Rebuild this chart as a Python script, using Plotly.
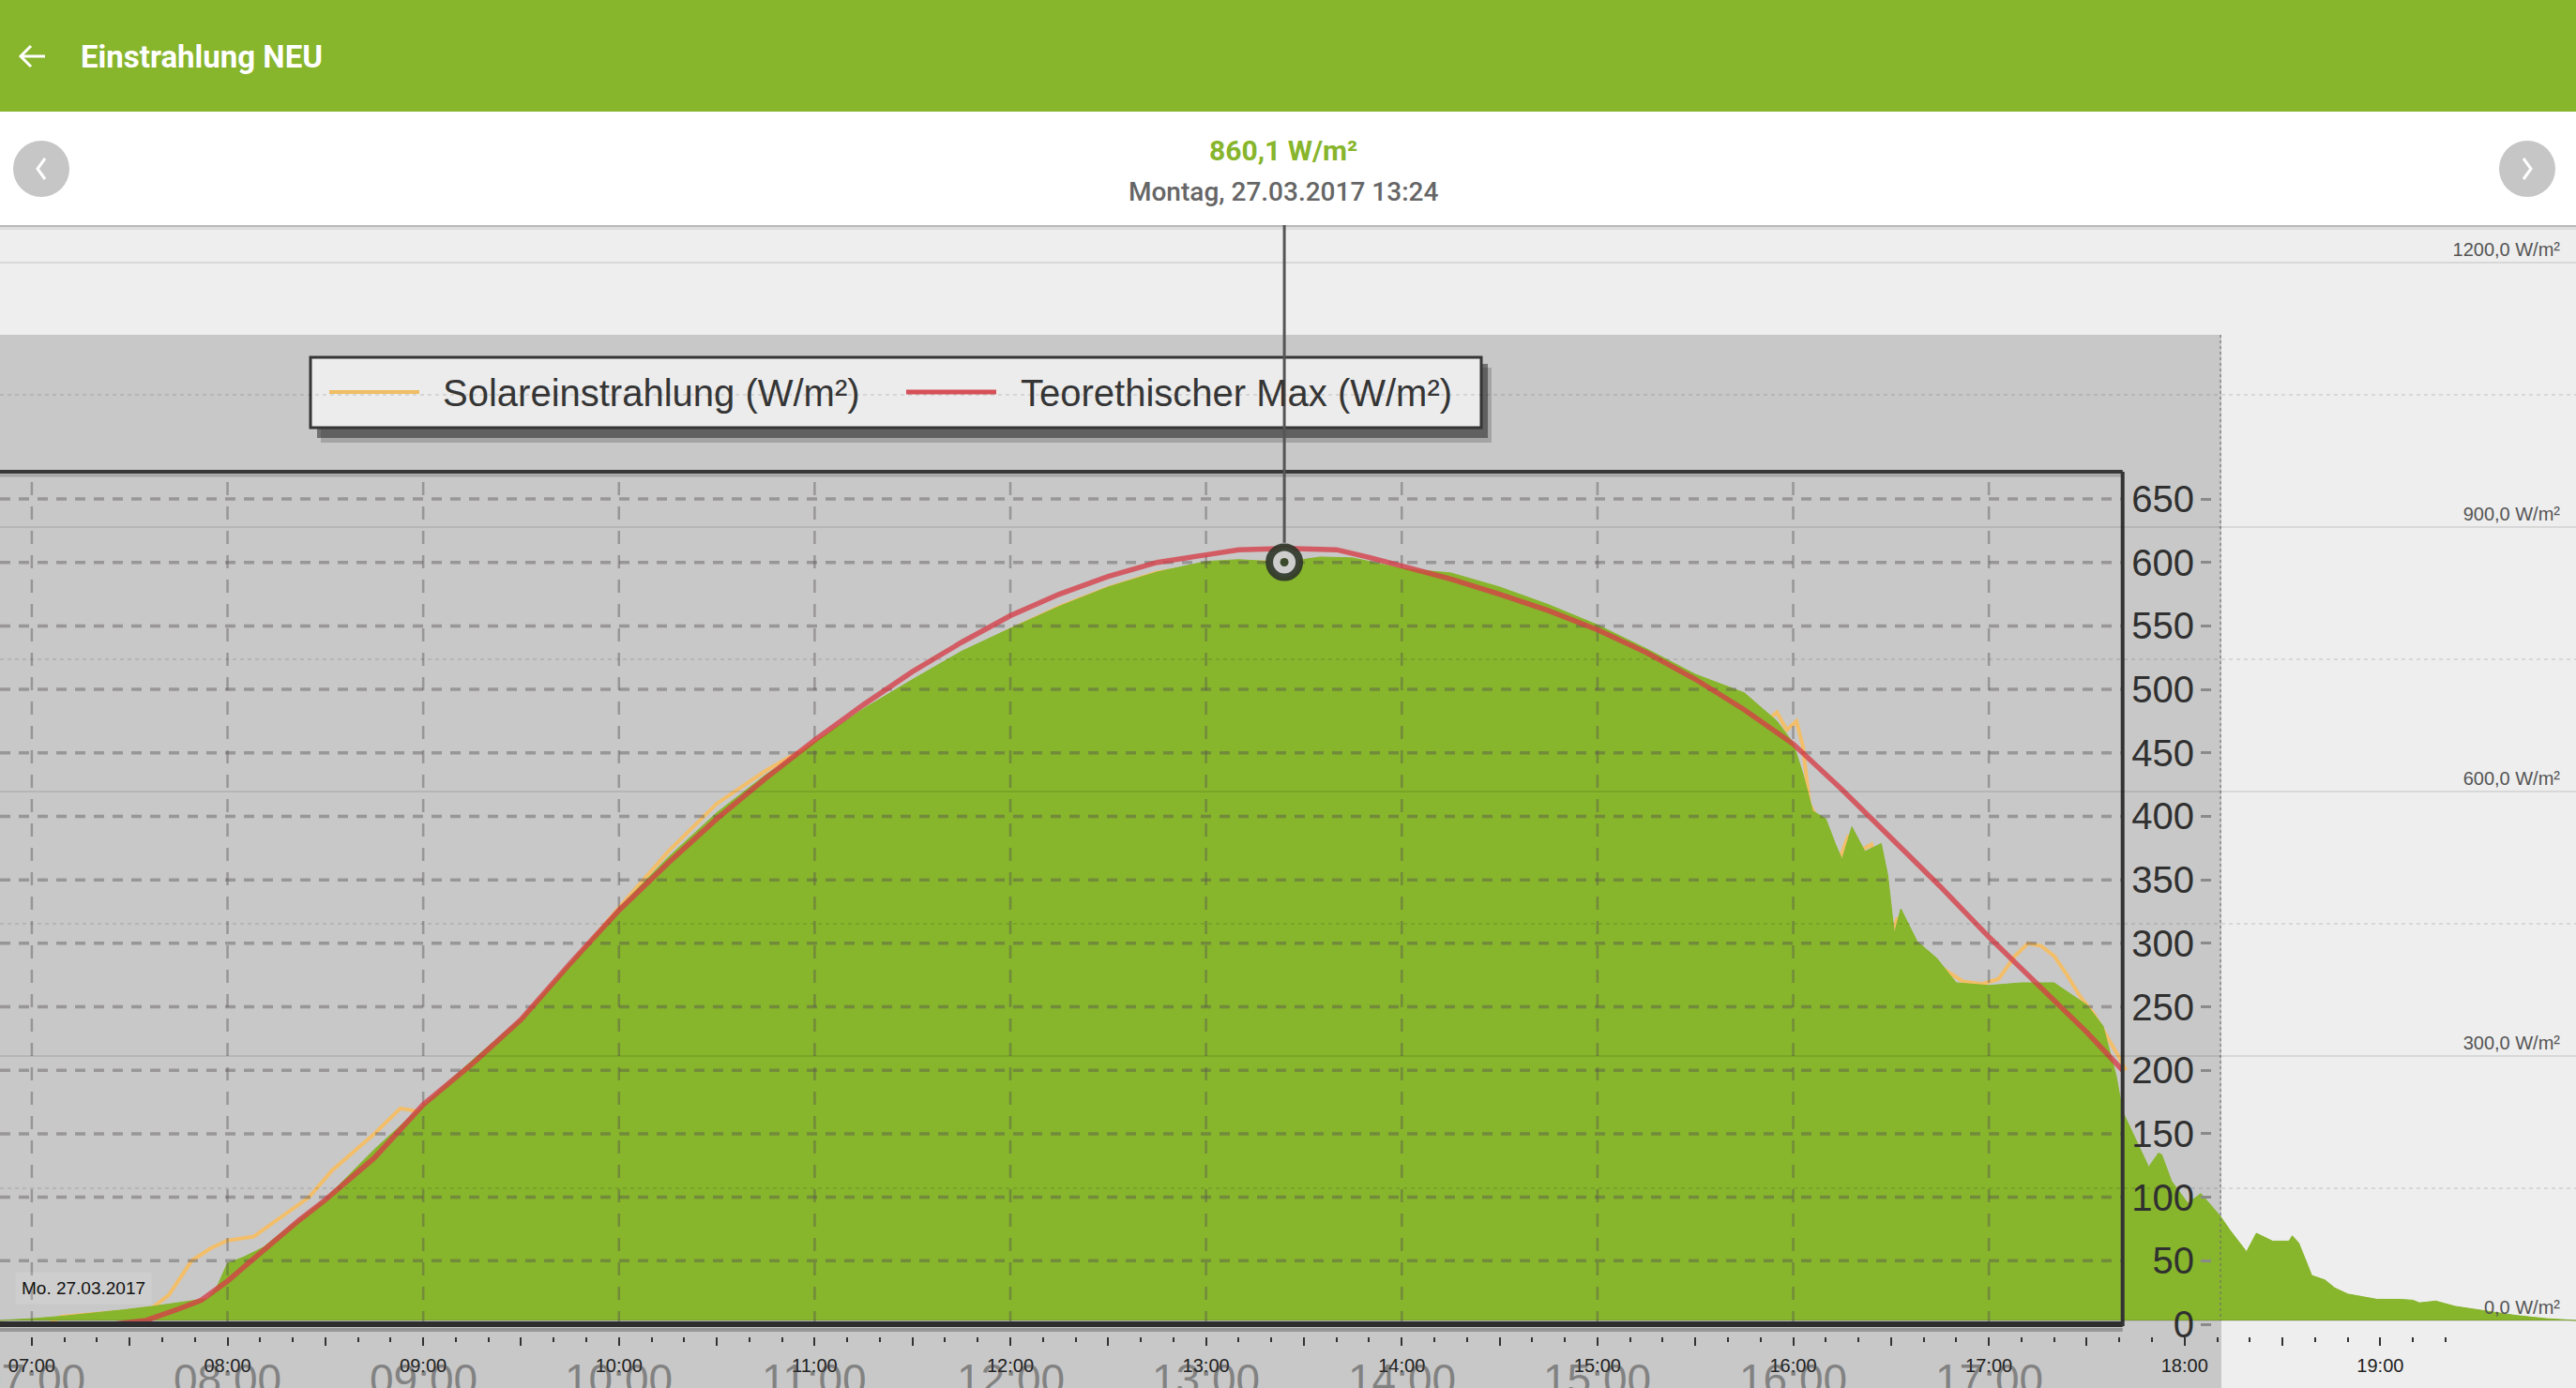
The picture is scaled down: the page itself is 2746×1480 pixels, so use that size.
import plotly.graph_objects as go

W, H = 2746, 1480          # size of the reference picture (all positions below are in its pixels)
H_FIG = 1500               # the page is photographed ~1500 px tall and squeezed to 1480
DATE = "2017-03-27"

# ---------------- data ----------------
# Outer app chart: Einstrahlung in W/m²
GREEN_TIMES = ["06:50","07:00","07:10","07:18","07:28","07:37","07:46","07:54","07:57","08:00",
               "08:05","08:11","08:16","08:22","08:30","08:45","09:00","09:15","09:30","09:45",
               "10:00","10:15","10:30","10:45","11:00","11:15","11:30","11:45","12:00","12:15",
               "12:30","12:45","13:00","13:10","13:24","13:35","13:45","14:00","14:15","14:30",
               "14:45","15:00","15:15","15:30","15:45","15:55","16:00","16:03","16:06","16:10",
               "16:13","16:15","16:18","16:22","16:27","16:29","16:31","16:33","16:38","16:44",
               "16:50","17:00","17:10","17:20","17:30","17:35","17:39","17:41","17:44","17:49",
               "17:52","17:53","17:56","18:01","18:05","18:11","18:14","18:19","18:22","18:27",
               "18:32","18:33","18:35","18:39","18:43","18:46","18:50","18:59","19:06","19:10",
               "19:12","19:17","19:23","19:30","19:41","19:51","20:00"]
GREEN_VALUES = [0,2,5,8,12,16,21,25,40,65,
                72,83,98,115,138,194,245,295,343,406,
                468,525,576,619,656,694,727,759,785,810,
                832,849,861,863,860.1,866,865,853,848,832,
                812,789,762,733,712,680,655,620,578,569,
                540,523,560,532,541,505,439,467,430,411,
                383,380,383,383,358,334,278,237,214,174,
                190,188,158,133,144,118,102,78,99,90,
                90,96,88,51,46,37,30,24,24,23,
                20,22,16,12,6,2,0]

# Embedded (screenshot) chart, its own W/m² scale
SOLAR_TIMES = ["07:05","07:09","07:28","07:37","07:42","07:49","07:55","08:00","08:08","08:15",
               "08:25","08:32","08:45","08:53","09:00","09:05","09:15","09:30","09:45","10:00",
               "10:15","10:30","10:45","11:00","11:15","11:30","11:45","12:00","12:15","12:30",
               "12:45","13:00","13:15","13:30","13:45","14:00","14:15","14:30","14:45","15:00",
               "15:15","15:30","15:45","15:52","15:55","15:58","16:01","16:03","16:05","16:08",
               "16:11","16:14","16:17","16:20","16:24","16:27","16:29","16:32","16:36","16:41",
               "16:46","16:52","16:58","17:03","17:08","17:12","17:16","17:20","17:24","17:28",
               "17:32","17:36","17:40","17:42"]
SOLAR_VALUES = [0,6,10,13,23,50,60,66,69,82,
                100,121,150,170,167,172,195,240,283,328,
                372,410,436,458,482,505,527,547,565,580,
                592,598,600,601,601,594,588,574,560,545,
                528,508,488,475,482,468,475,455,410,395,
                380,365,385,372,378,345,300,320,295,290,
                280,270,268,272,290,300,298,290,275,258,
                245,228,210,200]

TMAX_TIMES = ["07:25","07:35","07:45","07:52","08:00","08:11","08:22","08:30","08:45","09:00",
              "09:15","09:30","09:45","10:00","10:15","10:30","10:45","11:00","11:15","11:30",
              "11:45","12:00","12:15","12:30","12:45","13:00","13:10","13:25","13:40","13:50",
              "14:00","14:15","14:30","14:45","15:00","15:15","15:30","15:45","16:00","16:15",
              "16:30","16:45","17:00","17:15","17:30","17:41"]
TMAX_VALUES = [0,3,12,19,34,58,82,98,131,173,
               205,240,284,326,363,398,430,460,488,514,
               537,558,575,589,600,606,610,611,610,604,
               597,587,575,562,547,529,508,484,457,421,
               383,345,305,268,230,200]

MARK_TIME = "13:24"
MARK_VALUE = 860.1
MARK_DAY = "Montag, 27.03.2017"

OUTER_Y_TICKS = [0, 300, 600, 900, 1200]
OUTER_Y_LABELS = ["0,0 W/m²", "300,0 W/m²", "600,0 W/m²", "900,0 W/m²", "1200,0 W/m²"]
OUTER_Y_MINOR = [150, 450, 750, 1050]
OUTER_X_LABELS = ["07:00","08:00","09:00","10:00","11:00","12:00","13:00",
                  "14:00","15:00","16:00","17:00","18:00","19:00","20:00"]

INNER_Y_TICKS = [0, 50, 100, 150, 200, 250, 300, 350, 400, 450, 500, 550, 600, 650]
INNER_X_LABELS = ["07:00","08:00","09:00","10:00","11:00","12:00",
                  "13:00","14:00","15:00","16:00","17:00"]
INNER_X_END = "17:41"
INNER_TOP = 671.4
LEGEND_LABELS = ["Solareinstrahlung (W/m²)", "Teorethischer Max (W/m²)"]

# ---------------- helpers ----------------
def T(hm):
    return f"{DATE} {hm}:00"

def px(x):
    return x / W

def py(y):
    return 1 - y / H

X_LEFT = f"{DATE} 06:50:15"
X_RIGHT = f"{DATE} 20:00:00"
OUTER_RANGE = [(1408 - 1414) / 0.94, (1408 - 240) / 0.94]
INNER_RANGE = [(1412 - 1414) / 1.3538, (1412 - 240) / 1.3538]
GREEN = "#87b52c"
UI_FONT = "Roboto"
CH_FONT = "Liberation Sans"

fig = go.Figure()

# orange measurement (below the green area)
fig.add_trace(go.Scatter(
    x=[T(t) for t in SOLAR_TIMES], y=SOLAR_VALUES, mode="lines", yaxis="y",
    line=dict(color="rgba(246,190,100,0.95)", width=4), hoverinfo="skip", showlegend=False))

# green area of the app
fig.add_trace(go.Scatter(
    x=[T(t) for t in GREEN_TIMES], y=GREEN_VALUES, mode="lines", yaxis="y2",
    fill="tozeroy", fillcolor=GREEN, line=dict(color=GREEN, width=1),
    hoverinfo="skip", showlegend=False))

# embedded chart grid (dashed), over the green area
gx, gy = [], []
for v in INNER_Y_TICKS[1:]:
    gx += [X_LEFT, T(INNER_X_END), None]
    gy += [v, v, None]
fig.add_trace(go.Scatter(
    x=gx, y=gy, mode="lines", yaxis="y3",
    line=dict(color="rgba(85,80,80,0.42)", width=3.5, dash="11px,9px"),
    hoverinfo="skip", showlegend=False))
vx, vy = [], []
for lab in INNER_X_LABELS:
    vx += [T(lab), T(lab), None]
    vy += [0, INNER_TOP, None]
fig.add_trace(go.Scatter(
    x=vx, y=vy, mode="lines", yaxis="y3",
    line=dict(color="rgba(85,80,80,0.42)", width=2.5, dash="14px,12px"),
    hoverinfo="skip", showlegend=False))

# red theoretical max
fig.add_trace(go.Scatter(
    x=[T(t) for t in TMAX_TIMES], y=TMAX_VALUES, mode="lines", yaxis="y4",
    line=dict(color="rgba(214,62,72,0.78)", width=5.5), hoverinfo="skip", showlegend=False))

# selected point marker
fig.add_trace(go.Scatter(
    x=[T(MARK_TIME)], y=[MARK_VALUE], mode="markers", yaxis="y5",
    marker=dict(size=32, color="#cdcdcd", line=dict(color="rgba(48,55,42,0.92)", width=8)),
    hoverinfo="skip", showlegend=False))
fig.add_trace(go.Scatter(
    x=[T(MARK_TIME)], y=[MARK_VALUE], mode="markers", yaxis="y5",
    marker=dict(size=9, color="#3b4a2a"), hoverinfo="skip", showlegend=False))

# ---------------- shapes ----------------
shapes = []

def rect(x0, y0, x1, y1, fill, line=None, lw=0, layer="above"):
    shapes.append(dict(type="rect", xref="paper", yref="paper",
                       x0=px(x0), x1=px(x1), y0=py(y1), y1=py(y0),
                       fillcolor=fill, line=dict(width=lw, color=line or fill), layer=layer))

def pline(x0, y0, x1, y1, color, w, dash="solid", layer="above"):
    shapes.append(dict(type="line", xref="paper", yref="paper",
                       x0=px(x0), x1=px(x1), y0=py(y0), y1=py(y1),
                       line=dict(color=color, width=w, dash=dash), layer=layer))

# embedded screenshot background
rect(0, 357, 2368, 1480, "#c8c8c8", layer="below")

# header and sub header
rect(0, 0, W, 119, GREEN)
rect(0, 119, W, 240, "#ffffff")
pline(0, 241, W, 241, "rgba(0,0,0,0.22)", 2)
pline(0, 243.5, W, 243.5, "rgba(0,0,0,0.07)", 3)

# back arrow
shapes.append(dict(type="path", xref="paper", yref="paper",
                   path=f"M{px(23)},{py(60)} L{px(48)},{py(60)} M{px(33)},{py(49)} L{px(22)},{py(60)} L{px(33)},{py(71)}",
                   line=dict(color="white", width=3)))

# round navigation buttons
for cx, d in ((44, -1), (2694, 1)):
    shapes.append(dict(type="circle", xref="paper", yref="paper",
                       x0=px(cx - 30), x1=px(cx + 30), y0=py(210), y1=py(150),
                       fillcolor="#c6c6c6", line=dict(width=0)))
    shapes.append(dict(type="path", xref="paper", yref="paper",
                       path=f"M{px(cx - 4*d)},{py(169)} L{px(cx + 4*d)},{py(180)} L{px(cx - 4*d)},{py(191)}",
                       line=dict(color="white", width=3)))

# legend box of the embedded chart (with drop shadow)
rect(342, 392, 1590, 472, "rgba(0,0,0,0.18)")
rect(338, 388, 1586, 467, "rgba(40,40,40,0.55)")
rect(331, 381, 1579, 456, "#ececec", line="#353535", lw=3)
pline(351, 418, 447, 418, "rgba(240,190,100,1)", 4)
pline(966, 418, 1062, 418, "rgba(214,80,88,1)", 5)

# frame of the embedded chart
shapes.append(dict(type="line", xref="x", yref="paper", x0=X_LEFT, x1=T(INNER_X_END),
                   y0=py(507), y1=py(507), line=dict(color="rgba(0,0,0,0.18)", width=3)))
shapes.append(dict(type="line", xref="x", yref="paper", x0=X_LEFT, x1=T(INNER_X_END),
                   y0=py(503), y1=py(503), line=dict(color="#383838", width=4)))
shapes.append(dict(type="line", xref="x", yref="paper", x0=X_LEFT, x1=T(INNER_X_END),
                   y0=py(1418), y1=py(1418), line=dict(color="rgba(0,0,0,0.25)", width=4)))
shapes.append(dict(type="line", xref="x", yref="paper", x0=X_LEFT, x1=T(INNER_X_END),
                   y0=py(1412), y1=py(1412), line=dict(color="#2e2e2e", width=6)))
shapes.append(dict(type="line", xref="x", yref="paper", x0=T(INNER_X_END), x1=T(INNER_X_END),
                   y0=py(503), y1=py(1414), line=dict(color="#333333", width=4)))

# right edge of the screenshot
pline(2367, 357, 2367, 1408, "rgba(110,110,110,0.55)", 2, dash="dot")

# app grid lines (drawn over everything, faint)
for v in OUTER_Y_TICKS:
    shapes.append(dict(type="line", xref="paper", yref="y2", x0=0, x1=1, y0=v, y1=v,
                       line=dict(color="rgba(0,0,0,0.09)", width=2)))
for v in OUTER_Y_MINOR:
    shapes.append(dict(type="line", xref="paper", yref="y2", x0=0, x1=1, y0=v, y1=v,
                       line=dict(color="rgba(0,0,0,0.13)", width=1.5, dash="4px,4px")))

# crosshair to the selected point
shapes.append(dict(type="line", xref="x", yref="y2", x0=T(MARK_TIME), x1=T(MARK_TIME),
                   y0=MARK_VALUE + 22, y1=OUTER_RANGE[1],
                   line=dict(color="#555555", width=3)))

# ---------------- annotations ----------------
ann = []
ann.append(dict(xref="paper", yref="paper", x=px(84), y=py(60), xanchor="left", yanchor="middle",
                text="Einstrahlung NEU", showarrow=False,
                font=dict(family=UI_FONT, size=33, color="white", weight=700)))
ann.append(dict(xref="paper", yref="paper", x=px(1368), y=py(160), xanchor="center", yanchor="middle",
                text=f"{MARK_VALUE:.1f}".replace(".", ",") + " W/m²", showarrow=False,
                font=dict(family=UI_FONT, size=30, color=GREEN, weight=700)))
ann.append(dict(xref="paper", yref="paper", x=px(1368), y=py(204), xanchor="center", yanchor="middle",
                text=f"{MARK_DAY} {MARK_TIME}", showarrow=False,
                font=dict(family=UI_FONT, size=28, color="#666666", weight=500)))
ann.append(dict(xref="paper", yref="paper", x=px(16), y=py(1373), xanchor="left", yanchor="middle",
                text="Mo. 27.03.2017", showarrow=False, bgcolor="rgba(255,255,255,0.12)", borderpad=6,
                font=dict(family=CH_FONT, size=19, color="#111111")))
ann.append(dict(xref="paper", yref="paper", x=px(470), y=py(419), xanchor="left", yanchor="middle",
                text=LEGEND_LABELS[0], showarrow=False,
                font=dict(family=CH_FONT, size=40, color="#353535")))
ann.append(dict(xref="paper", yref="paper", x=px(1086), y=py(419), xanchor="left", yanchor="middle",
                text=LEGEND_LABELS[1], showarrow=False,
                font=dict(family=CH_FONT, size=40, color="#353535")))
# big x labels of the embedded chart, cut by the bottom edge as in the screenshot
for lab in INNER_X_LABELS:
    ann.append(dict(xref="x", yref="paper", x=T(lab), y=py(1444), xanchor="center", yanchor="top",
                    text=lab, showarrow=False, borderpad=0,
                    font=dict(family=CH_FONT, size=46, color="rgba(60,60,60,0.5)")))

# ---------------- axes ----------------
tickvals, ticktext = [], []
for lab in OUTER_X_LABELS:
    tickvals.append(T(lab)); ticktext.append(lab)
    if lab != OUTER_X_LABELS[-1]:
        tickvals.append(T(lab[:2] + ":30")); ticktext.append("")

y_dom = [(H - 1414) / H, (H - 240) / H]

fig.update_layout(
    width=W, height=H_FIG,
    margin=dict(l=0, r=0, t=0, b=0),
    paper_bgcolor="#eeeeee", plot_bgcolor="#eeeeee",
    showlegend=False,
    shapes=shapes, annotations=ann,
    xaxis=dict(type="date", range=[X_LEFT, X_RIGHT], domain=[0, 1],
               anchor="free", position=(H - 1425) / H,
               showgrid=False, zeroline=False, showline=False,
               ticks="outside", ticklen=9, tickwidth=2, tickcolor="#333333",
               tickvals=tickvals, ticktext=ticktext, ticklabelstandoff=4,
               tickfont=dict(family="Liberation Sans", size=20, color="#222222"),
               minor=dict(ticks="outside", ticklen=5, tickwidth=2, tickcolor="#333333",
                          dtick=600000, tick0=T("07:00"))),
    yaxis=dict(domain=y_dom, range=INNER_RANGE, visible=False, anchor="x"),
    yaxis2=dict(overlaying="y", side="right", anchor="x", range=OUTER_RANGE,
                showgrid=False, zeroline=False, showline=False, ticks="",
                tickvals=OUTER_Y_TICKS, ticktext=OUTER_Y_LABELS,
                ticklabelposition="inside top", ticklabelstandoff=14,
                tickfont=dict(family="Liberation Sans", size=20, color="#555555")),
    yaxis3=dict(overlaying="y", side="left", anchor="free", position=2345 / W, range=INNER_RANGE,
                showgrid=False, zeroline=False, showline=False,
                ticks="inside", ticklen=11, tickwidth=3, tickcolor="#8a8a8a",
                tickvals=INNER_Y_TICKS, ticklabelstandoff=6,
                tickfont=dict(family=CH_FONT, size=40, color="#303030")),
    yaxis4=dict(overlaying="y", range=INNER_RANGE, visible=False),
    yaxis5=dict(overlaying="y", range=OUTER_RANGE, visible=False),
)

POST = (
    "var d=document.documentElement,b=document.body;"
    "d.style.margin='0';b.style.margin='0';d.style.padding='0';b.style.padding='0';"
    "d.style.overflow='hidden';b.style.overflow='hidden';"
)
fig.write_html("out.html", config={"displayModeBar": False}, post_script=POST)
